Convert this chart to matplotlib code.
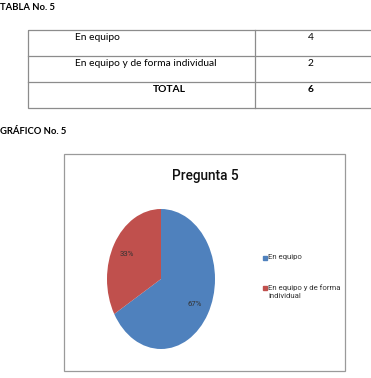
import matplotlib
matplotlib.use("Agg")
import matplotlib.pyplot as plt
from matplotlib.patches import Rectangle

# ---- data ----
table_title = "TABLA No. 5"
chart_caption = "GRÁFICO No. 5"
categories = ["En equipo", "En equipo y de forma individual"]
counts = [4, 2]
total_label = "TOTAL"
chart_title = "Pregunta 5"
legend_labels = ["En equipo", "En equipo y de forma\nindividual"]
colors = ["#4F81BD", "#C0504D"]

W, H = 371, 378
fig = plt.figure(figsize=(W / 100, H / 100), dpi=100)
fig.patch.set_facecolor("white")

# page overlay in pixel coordinates
page = fig.add_axes([0, 0, 1, 1])
page.set_xlim(0, W)
page.set_ylim(H, 0)
page.axis("off")

body = ["Lato", "DejaVu Sans"]
narrow = ["Roboto", "DejaVu Sans"]

page.text(0, 8, table_title, fontsize=6.8, fontweight="bold", family=body,
          va="center", ha="left")

# table
line_c = "#8c8c8c"
rows_y = [30, 56, 82, 108]
page.add_patch(Rectangle((28, 30), 380, 78, fill=False, ec=line_c, lw=0.9))
for y in rows_y[1:-1]:
    page.plot([28, W + 5], [y, y], color=line_c, lw=0.9)
page.plot([255, 255], [30, 108], color=line_c, lw=0.9)

for i, (cat, val) in enumerate(zip(categories, counts)):
    yc = rows_y[i] + 8
    page.text(75, yc, cat, fontsize=7.4, family=body, va="center", ha="left")
    page.text(311, yc, str(val), fontsize=7.4, family=body, va="center", ha="center")
page.text(169, rows_y[2] + 8, total_label, fontsize=7.4, fontweight="bold",
          family=body, va="center", ha="center")
page.text(311, rows_y[2] + 8, str(sum(counts)), fontsize=7.4, fontweight="bold",
          family=body, va="center", ha="center")

page.text(0, 132, chart_caption, fontsize=6.8, fontweight="bold", family=body,
          va="center", ha="left")

# chart box
page.add_patch(Rectangle((64, 154), 281, 217, fill=False, ec="#9a9a9a", lw=0.9))
page.text(205, 176, chart_title, fontsize=9.8, family=narrow, fontweight="medium",
          va="center", ha="center", color="#111111")

# pie axes (elliptical)
cx, cy, rx, ry = 161, 279, 54, 70
ax = fig.add_axes([(cx - rx) / W, 1 - (cy + ry) / H, 2 * rx / W, 2 * ry / H])
wedges, texts, autotexts = ax.pie(
    counts, colors=colors, startangle=90, counterclock=False,
    autopct=lambda p: f"{p:.0f}%", pctdistance=0.72,
    textprops=dict(fontsize=5.6, family=narrow, color="#333333"),
    wedgeprops=dict(linewidth=0))
ax.set_aspect("auto")
ax.set_xlim(-1, 1)
ax.set_ylim(-1, 1)
ax.axis("off")

# legend
leg_y = [258, 288]
for lab, col, y in zip(legend_labels, colors, leg_y):
    page.add_patch(Rectangle((263, y - 2.5), 4, 4, color=col))
    page.text(268.5, y - 3.8, lab, fontsize=5.6, family=narrow, va="top", ha="left",
              color="#333333", linespacing=1.35)

fig.savefig("out.png", dpi=100, facecolor="white")
